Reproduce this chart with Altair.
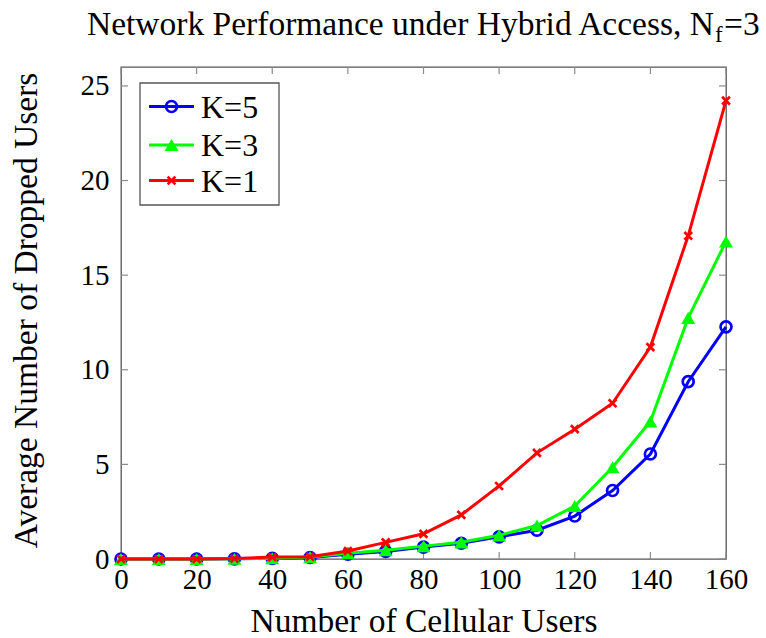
import altair as alt
import pandas as pd

# ---- data -------------------------------------------------------------
users = [0, 10, 20, 30, 40, 50, 60, 70, 80, 90, 100, 110, 120, 130, 140, 150, 160]
dropped_k5 = [0.0, 0.0, 0.0, 0.01, 0.03, 0.08, 0.25, 0.4, 0.63, 0.83, 1.17, 1.52, 2.27, 3.62, 5.55, 9.37, 12.27]
dropped_k3 = [0.0, 0.0, 0.0, 0.01, 0.04, 0.1, 0.3, 0.46, 0.68, 0.88, 1.25, 1.77, 2.8, 4.85, 7.27, 12.74, 16.78]
dropped_k1 = [0.0, 0.0, 0.0, 0.02, 0.1, 0.12, 0.42, 0.88, 1.33, 2.33, 3.86, 5.61, 6.86, 8.23, 11.2, 17.08, 24.22]

series_names = ["K=5", "K=3", "K=1"]
series_values = [dropped_k5, dropped_k3, dropped_k1]
series_colors = ["#0000ff", "#00ff00", "#ff0000"]

x_ticks = [0, 20, 40, 60, 80, 100, 120, 140, 160]
y_ticks = [0, 5, 10, 15, 20, 25]

title_main = "Network Performance under Hybrid Access, N"
title_sub = "f"
title_tail = "=3"
x_title = "Number of Cellular Users"
y_title = "Average Number of Dropped Users"

# ---- styling ------------------------------------------------------------
W, H = 605, 492
FONT = "Liberation Serif, Times New Roman, DejaVu Serif, serif"
FRAME = "#555555"
TICK = "#8c8c8c"
LW = 3
TITLE_SIZE = 33.5

df = pd.DataFrame({
    "users": users * len(series_names),
    "dropped": [v for vals in series_values for v in vals],
    "series": [n for n, vals in zip(series_names, series_values) for _ in vals],
})

x_scale = alt.Scale(domain=[0, 160], nice=False, zero=False)
y_scale = alt.Scale(domain=[0, 26], nice=False, zero=False)

# identical axis definitions are shared by every layer on the x/y scales
x_axis = alt.Axis(
    values=x_ticks, ticks=False, grid=False, domain=False, labelFlush=False,
    labelFont=FONT, labelFontSize=29, labelColor="black", labelPadding=6,
    title=x_title, titleFont=FONT, titleFontSize=TITLE_SIZE, titleFontWeight="normal",
    titleColor="black", titleX=W / 2, titleY=62, titleBaseline="middle",
)
y_axis = alt.Axis(
    values=y_ticks, ticks=False, grid=False, domain=False, labelFlush=False,
    labelFont=FONT, labelFontSize=29, labelColor="black", labelPadding=12,
    title=y_title, titleFont=FONT, titleFontSize=TITLE_SIZE, titleFontWeight="normal",
    titleColor="black", titleX=-95, titleY=H / 2 - 3, titleAngle=-90,
    titleBaseline="middle", titleAlign="center",
)


def xq(field):
    return alt.X(field, scale=x_scale, axis=x_axis)


def yq(field):
    return alt.Y(field, scale=y_scale, axis=y_axis)


layers = []

# inward tick marks on all four sides
xt = alt.Chart(pd.DataFrame({"t": x_ticks}))
yt = alt.Chart(pd.DataFrame({"t": y_ticks}))
layers.append(xt.mark_rule(color=TICK, strokeWidth=1.2).encode(
    x=xq("t:Q"), y=alt.value(H), y2=alt.value(H - 7)))
layers.append(xt.mark_rule(color=TICK, strokeWidth=1.2).encode(
    x=xq("t:Q"), y=alt.value(0), y2=alt.value(7)))
layers.append(yt.mark_rule(color=TICK, strokeWidth=1.2).encode(
    y=yq("t:Q"), x=alt.value(0), x2=alt.value(7)))
layers.append(yt.mark_rule(color=TICK, strokeWidth=1.2).encode(
    y=yq("t:Q"), x=alt.value(W), x2=alt.value(W - 7)))

# marker style per series: open circle, filled triangle, x-cross
X_PATH = "M-1,-1L1,1M1,-1L-1,1"
marker_style = [
    dict(shape="circle", filled=False, size=120, strokeWidth=2.7),
    dict(shape="triangle-up", filled=True, size=195, strokeWidth=0),
    dict(shape=X_PATH, filled=False, size=60, strokeWidth=2.7),
]

for i, (name, color) in enumerate(zip(series_names, series_colors)):
    sub = alt.Chart(df).transform_filter(alt.datum.series == name)
    enc = dict(x=xq("users:Q"), y=yq("dropped:Q"))
    layers.append(sub.mark_line(color=color, strokeWidth=LW).encode(**enc))
    layers.append(sub.mark_point(color=color, opacity=1, **marker_style[i]).encode(**enc))

# legend box with one row per series
layers.append(alt.Chart(pd.DataFrame({"k": [0]})).mark_rect(
    fill="white", stroke=FRAME, strokeWidth=1.3).encode(
    x=alt.value(19), x2=alt.value(158), y=alt.value(16), y2=alt.value(138)))
row_y = [39.5, 78, 113.5]
for i, name in enumerate(series_names):
    row = alt.Chart(pd.DataFrame({"label": [name]}))
    layers.append(row.mark_rule(color=series_colors[i], strokeWidth=LW).encode(
        x=alt.value(28), x2=alt.value(73), y=alt.value(row_y[i])))
    layers.append(row.mark_point(color=series_colors[i], opacity=1, **marker_style[i]).encode(
        x=alt.value(50.5), y=alt.value(row_y[i])))
    layers.append(row.mark_text(font=FONT, fontSize=32, align="left", baseline="middle",
                                color="black").encode(
        x=alt.value(80), y=alt.value(row_y[i] + 1), text="label:N"))

# title with subscripted f
trow = alt.Chart(pd.DataFrame({"a": [title_main], "b": [title_sub], "c": [title_tail]}))
layers.append(trow.mark_text(font=FONT, fontSize=TITLE_SIZE, align="right", baseline="alphabetic",
                             color="black").encode(
    x=alt.value(593), y=alt.value(-32), text="a:N"))
layers.append(trow.mark_text(font=FONT, fontSize=23, align="left", baseline="alphabetic",
                             color="black").encode(
    x=alt.value(594), y=alt.value(-25), text="b:N"))
layers.append(trow.mark_text(font=FONT, fontSize=TITLE_SIZE, align="left", baseline="alphabetic",
                             color="black").encode(
    x=alt.value(603), y=alt.value(-32), text="c:N"))

chart = alt.layer(*layers).properties(
    width=W, height=H,
    background="white",
    autosize=alt.AutoSizeParams(type="none"),
    padding={"left": 121, "top": 67, "right": 40, "bottom": 79},
).configure_view(stroke=FRAME, strokeWidth=1.3)

chart.save("out.html", embed_options={"renderer": "svg", "actions": False})
